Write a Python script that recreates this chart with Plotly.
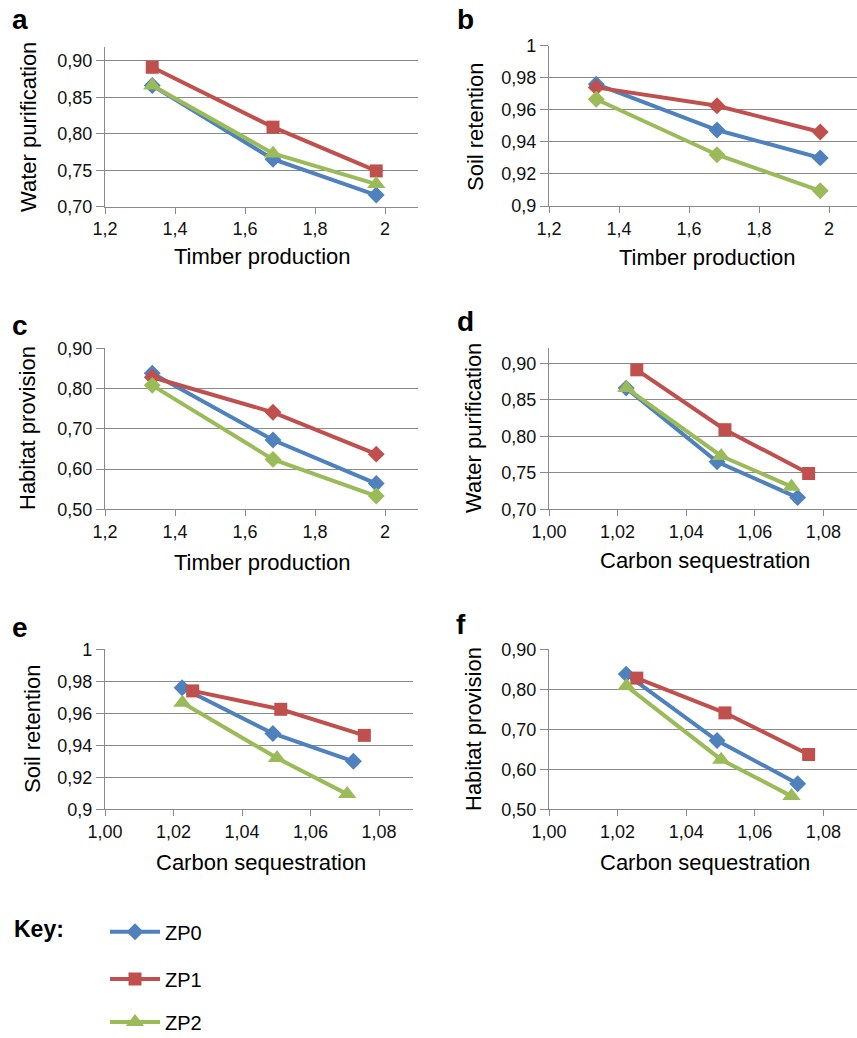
import plotly.graph_objects as go

W, H = 857, 1038

# ---------------- data ----------------
series_names = ["ZP0", "ZP1", "ZP2"]
series_colors = ["#4F81BD", "#C0504D", "#9BBB59"]

timber_x_zp0 = [1.335, 1.680, 1.975]
timber_x_zp1 = [1.335, 1.680, 1.975]
timber_x_zp2 = [1.335, 1.680, 1.975]

carbon_x_zp0 = [1.0225, 1.0490, 1.0725]
carbon_x_zp1 = [1.0256, 1.0513, 1.0757]
carbon_x_zp2 = [1.0226, 1.0502, 1.0707]

water_zp0 = [0.866, 0.765, 0.716]
water_zp1 = [0.891, 0.809, 0.749]
water_zp2 = [0.866, 0.773, 0.731]

soil_zp0 = [0.9760, 0.9474, 0.9300]
soil_zp1 = [0.9740, 0.9625, 0.9462]
soil_zp2 = [0.9666, 0.9320, 0.9095]

habitat_zp0 = [0.838, 0.672, 0.564]
habitat_zp1 = [0.828, 0.741, 0.637]
habitat_zp2 = [0.808, 0.624, 0.533]

timber_ticks = [1.2, 1.4, 1.6, 1.8, 2.0]
timber_ticktext = ["1,2", "1,4", "1,6", "1,8", "2"]
carbon_ticks = [1.00, 1.02, 1.04, 1.06, 1.08]
carbon_ticktext = ["1,00", "1,02", "1,04", "1,06", "1,08"]
water_ticks = [0.70, 0.75, 0.80, 0.85, 0.90]
water_ticktext = ["0,70", "0,75", "0,80", "0,85", "0,90"]
soil_ticks = [0.90, 0.92, 0.94, 0.96, 0.98, 1.00]
soil_ticktext = ["0,9", "0,92", "0,94", "0,96", "0,98", "1"]
habitat_ticks = [0.50, 0.60, 0.70, 0.80, 0.90]
habitat_ticktext = ["0,50", "0,60", "0,70", "0,80", "0,90"]

timber_x = [timber_x_zp0, timber_x_zp1, timber_x_zp2]
carbon_x = [carbon_x_zp0, carbon_x_zp1, carbon_x_zp2]
water = [water_zp0, water_zp1, water_zp2]
soil = [soil_zp0, soil_zp1, soil_zp2]
habitat = [habitat_zp0, habitat_zp1, habitat_zp2]

sym_mixed = ["diamond", "square", "triangle-up"]
sym_diam = ["diamond", "diamond", "diamond"]
sym_size = {"diamond": 13, "square": 13, "triangle-up": 16}

panels = [
    dict(letter="a", xs=timber_x, ys=water, sym=sym_mixed, xd=(105, 418), yd=(46.7, 206.7),
         xr=[1.2, 2.0943], yr=[0.70, 0.9192], xt=(timber_ticks, timber_ticktext), yt=(water_ticks, water_ticktext),
         xtitle="Timber production", ytitle="Water purification",
         lpos=(20, 20), xtpos=(262, 256), ytpos=(28, 127)),
    dict(letter="b", xs=timber_x, ys=soil, sym=sym_diam, xd=(549, 857), yd=(45.7, 206),
         xr=[1.2, 2.08], yr=[0.90, 1.0], xt=(timber_ticks, timber_ticktext), yt=(soil_ticks, soil_ticktext),
         xtitle="Timber production", ytitle="Soil retention",
         lpos=(465, 20), xtpos=(707, 257), ytpos=(475, 127)),
    dict(letter="c", xs=timber_x, ys=habitat, sym=sym_diam, xd=(105, 418), yd=(348.3, 509.3),
         xr=[1.2, 2.0943], yr=[0.50, 0.90], xt=(timber_ticks, timber_ticktext), yt=(habitat_ticks, habitat_ticktext),
         xtitle="Timber production", ytitle="Habitat provision",
         lpos=(20, 325), xtpos=(262, 562), ytpos=(27, 428)),
    dict(letter="d", xs=carbon_x, ys=water, sym=sym_mixed, xd=(549, 857), yd=(348.3, 509.3),
         xr=[1.0, 1.0898], yr=[0.70, 0.9205], xt=(carbon_ticks, carbon_ticktext), yt=(water_ticks, water_ticktext),
         xtitle="Carbon sequestration", ytitle="Water purification",
         lpos=(465, 321), xtpos=(705, 560), ytpos=(473, 428)),
    dict(letter="e", xs=carbon_x, ys=soil, sym=sym_mixed, xd=(105, 413), yd=(649.3, 809.3),
         xr=[1.0, 1.0899], yr=[0.90, 1.0], xt=(carbon_ticks, carbon_ticktext), yt=(soil_ticks, soil_ticktext),
         xtitle="Carbon sequestration", ytitle="Soil retention",
         lpos=(20, 627), xtpos=(261, 862), ytpos=(32, 729)),
    dict(letter="f", xs=carbon_x, ys=habitat, sym=sym_mixed, xd=(549, 857), yd=(649.3, 809.3),
         xr=[1.0, 1.0898], yr=[0.50, 0.90], xt=(carbon_ticks, carbon_ticktext), yt=(habitat_ticks, habitat_ticktext),
         xtitle="Carbon sequestration", ytitle="Habitat provision",
         lpos=(461, 624), xtpos=(705, 862), ytpos=(473, 729)),
]

FONT = "Liberation Sans, Arial, sans-serif"
GRID = "#8A8A8A"


def fx(p):
    return p / W


def fy(p):
    return 1 - p / H


fig = go.Figure()
annotations = []
layout_axes = {}
legend_names = ["legend", "legend2", "legend3"]

for i, p in enumerate(panels):
    n = i + 1
    xa = "x" if n == 1 else f"x{n}"
    ya = "y" if n == 1 else f"y{n}"
    for s in range(3):
        show = (p["letter"] == "d")
        fig.add_trace(go.Scatter(
            x=p["xs"][s], y=p["ys"][s], xaxis=xa, yaxis=ya,
            mode="lines+markers", name=series_names[s],
            line=dict(color=series_colors[s], width=4),
            marker=dict(symbol=p["sym"][s], size=sym_size[p["sym"][s]], color=series_colors[s]),
            showlegend=show, legend=legend_names[s], cliponaxis=False,
        ))
    axis_common = dict(showline=True, linecolor=GRID, linewidth=1.2, ticks="outside",
                       tickcolor=GRID, tickwidth=1.2, zeroline=False, automargin=False,
                       tickfont=dict(family=FONT, size=18, color="#111"))
    layout_axes[f"xaxis{'' if n == 1 else n}"] = dict(
        axis_common, domain=[fx(p["xd"][0]), fx(p["xd"][1])], range=p["xr"],
        tickvals=p["xt"][0], ticktext=p["xt"][1], ticklen=6, showgrid=False,
        anchor=ya)
    layout_axes[f"yaxis{'' if n == 1 else n}"] = dict(
        axis_common, domain=[fy(p["yd"][1]), fy(p["yd"][0])], range=p["yr"],
        tickvals=p["yt"][0], ticktext=p["yt"][1], ticklen=8, showgrid=True,
        gridcolor=GRID, gridwidth=1.2, anchor=xa)
    annotations.append(dict(text=f"<b>{p['letter']}</b>", x=fx(p["lpos"][0]), y=fy(p["lpos"][1]),
                            xref="paper", yref="paper", showarrow=False,
                            xanchor="center", yanchor="middle",
                            font=dict(family=FONT, size=28, color="#000")))
    annotations.append(dict(text=p["xtitle"], x=fx(p["xtpos"][0]), y=fy(p["xtpos"][1]),
                            xref="paper", yref="paper", showarrow=False,
                            xanchor="center", yanchor="middle",
                            font=dict(family=FONT, size=22, color="#000")))
    annotations.append(dict(text=p["ytitle"], x=fx(p["ytpos"][0]), y=fy(p["ytpos"][1]),
                            xref="paper", yref="paper", showarrow=False, textangle=-90,
                            xanchor="center", yanchor="middle",
                            font=dict(family=FONT, size=22, color="#000")))

annotations.append(dict(text="<b>Key:</b>", x=fx(12), y=fy(929), xref="paper", yref="paper",
                        xanchor="left", yanchor="middle", showarrow=False,
                        font=dict(family=FONT, size=23, color="#000")))

legend_y = [931.7, 979, 1022]
legends = {}
for k, ln in enumerate(legend_names):
    legends[ln] = dict(x=fx(105), y=fy(legend_y[k]), xanchor="left", yanchor="middle",
                       bgcolor="rgba(0,0,0,0)", itemwidth=50, borderwidth=0,
                       font=dict(family=FONT, size=20, color="#000"))

fig.update_layout(
    width=W, height=H, margin=dict(l=0, r=0, t=0, b=0, pad=0, autoexpand=False),
    paper_bgcolor="white", plot_bgcolor="white",
    annotations=annotations, showlegend=True,
    **layout_axes, **legends,
)

fig.write_html("out.html", config={"displayModeBar": False},
               post_script="document.body.style.margin='0';")
